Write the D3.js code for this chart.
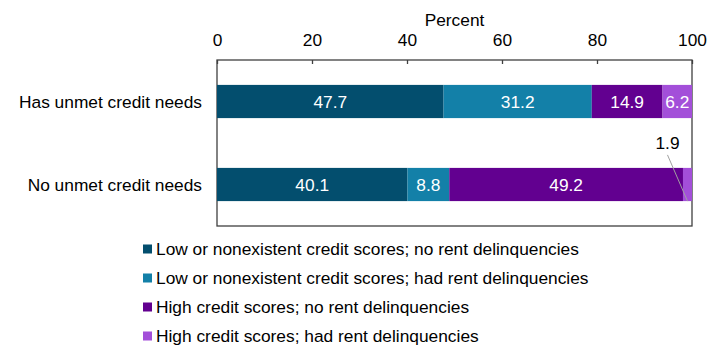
<!DOCTYPE html>
<html>
<head>
<meta charset="utf-8">
<script src="https://cdn.jsdelivr.net/npm/d3@7"></script>
<style>
  body { margin: 0; background: #fff; }
  svg { font-family: "Liberation Sans", Arial, sans-serif; }
</style>
</head>
<body>
<div id="chart"></div>
<script>
const categories = ['Has unmet credit needs', 'No unmet credit needs'];
const seriesNames = [
  'Low or nonexistent credit scores; no rent delinquencies',
  'Low or nonexistent credit scores; had rent delinquencies',
  'High credit scores; no rent delinquencies',
  'High credit scores; had rent delinquencies'
];
const lowNoDelinq = [47.7, 40.1];
const lowHadDelinq = [31.2, 8.8];
const highNoDelinq = [14.9, 49.2];
const highHadDelinq = [6.2, 1.9];
const xTicks = [0, 20, 40, 60, 80, 100];
const colors = ['#034e6e', '#1380a8', '#620090', '#a34fd9'];

const fs = 17.33;
const width = 725;
const height = 356;
const margin = {top: 60, left: 217, right: 33, bottom: 130};
const innerW = width - margin.left - margin.right;
const innerH = height - margin.top - margin.bottom;

const svg = d3.select('#chart')
  .append('svg')
  .attr('width', width)
  .attr('height', height);

const g = svg.append('g')
  .attr('transform', 'translate(' + margin.left + ',' + margin.top + ')');

const x = d3.scaleLinear().domain([0, 100]).range([0, innerW]);
const y = d3.scaleBand().domain(categories).range([0, innerH])
  .paddingInner(0.6).paddingOuter(0.3);

// build rows for stacking
const rows = categories.map((c, i) => ({
  cat: c,
  s0: lowNoDelinq[i],
  s1: lowHadDelinq[i],
  s2: highNoDelinq[i],
  s3: highHadDelinq[i]
}));
const stack = d3.stack().keys(['s0', 's1', 's2', 's3']);
const layers = stack(rows);

// frame
g.append('rect')
  .attr('x', 0).attr('y', 0)
  .attr('width', innerW).attr('height', innerH)
  .attr('fill', 'none')
  .attr('stroke', '#404040')
  .attr('stroke-width', 1.3);

// top axis
const xAxis = d3.axisTop(x).tickValues(xTicks).tickSize(-4).tickPadding(14);
const ax = g.append('g').call(xAxis);
ax.select('.domain').remove();
ax.selectAll('.tick line').attr('stroke', '#404040').attr('stroke-width', 1.3);
ax.selectAll('.tick text').attr('font-size', fs).attr('fill', '#000')
  .attr('font-family', '"Liberation Sans", Arial, sans-serif');

svg.append('text')
  .attr('x', margin.left + innerW / 2)
  .attr('y', 26)
  .attr('text-anchor', 'middle')
  .attr('font-size', fs)
  .text('Percent');

// category labels
g.selectAll('.cat')
  .data(categories)
  .enter()
  .append('text')
  .attr('x', -15)
  .attr('y', d => y(d) + y.bandwidth() / 2)
  .attr('dy', '0.35em')
  .attr('text-anchor', 'end')
  .attr('font-size', fs)
  .text(d => d);

// bars
layers.forEach((layer, k) => {
  const lg = g.append('g');
  lg.selectAll('rect')
    .data(layer)
    .enter()
    .append('rect')
    .attr('x', d => x(d[0]))
    .attr('y', d => y(d.data.cat))
    .attr('width', d => x(d[1]) - x(d[0]))
    .attr('height', y.bandwidth())
    .attr('fill', colors[k]);

  lg.selectAll('text')
    .data(layer.filter(d => d[1] - d[0] >= 3))
    .enter()
    .append('text')
    .attr('x', d => (x(d[0]) + x(d[1])) / 2)
    .attr('y', d => y(d.data.cat) + y.bandwidth() / 2)
    .attr('dy', '0.35em')
    .attr('text-anchor', 'middle')
    .attr('font-size', fs)
    .attr('fill', '#fff')
    .text(d => (d[1] - d[0]).toFixed(1));
});

// callout for small segment
const small = layers[3][1];
const sx = (x(small[0]) + x(small[1])) / 2;
const sy = y(small.data.cat);
g.append('line')
  .attr('x1', sx - 20).attr('y1', sy - 13)
  .attr('x2', sx).attr('y2', sy + y.bandwidth())
  .attr('stroke', '#a0a0a0')
  .attr('stroke-width', 1);
g.append('text')
  .attr('x', sx - 20)
  .attr('y', sy - 25)
  .attr('dy', '0.35em')
  .attr('text-anchor', 'middle')
  .attr('font-size', fs)
  .text((small[1] - small[0]).toFixed(1));

// legend
const legend = svg.append('g').attr('transform', 'translate(143,249)');
seriesNames.forEach((name, i) => {
  const row = legend.append('g').attr('transform', 'translate(0,' + (i * 29) + ')');
  row.append('rect')
    .attr('x', 0).attr('y', -4.5)
    .attr('width', 9).attr('height', 9)
    .attr('fill', colors[i]);
  row.append('text')
    .attr('x', 13)
    .attr('y', 0)
    .attr('dy', '0.35em')
    .attr('font-size', fs)
    .text(name);
});
</script>
</body>
</html>
